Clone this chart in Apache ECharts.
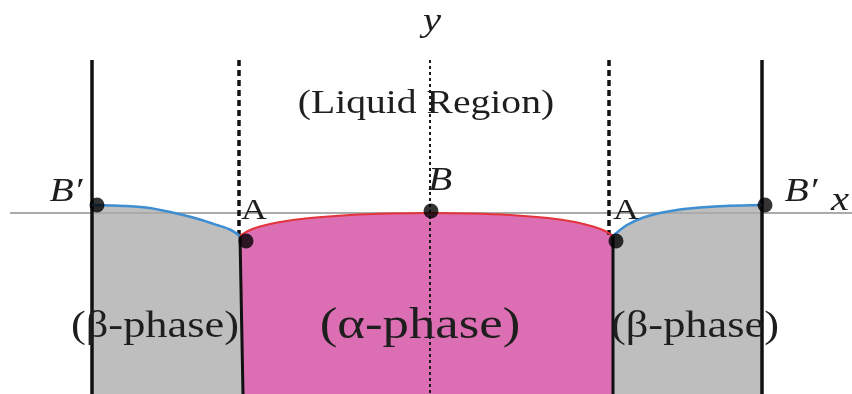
<!DOCTYPE html>
<html>
<head>
<meta charset="utf-8">
<script src="https://cdn.jsdelivr.net/npm/echarts@6/dist/echarts.min.js"></script>
<style>
  html, body { margin: 0; padding: 0; background: #fff; }
  #chart { width: 852px; height: 394px; }
</style>
</head>
<body>
<div id="chart"></div>
<script>
// Domain geometry (x: horizontal, y: height above the x axis)
const wallLeftX = -338;
const wallRightX = 332;
const wallTopY = 153;
const bottomY = -181;
const dashLeftX = -191;
const dashRightX = 179;

// Liquid / beta interfaces (blue) and liquid / alpha interface (red)
const blueLeft = [[-338, 8], [-305, 7], [-280, 5], [-247, -2], [-230, -6.5], [-213, -12], [-200, -16.5], [-190, -23]];
const redCurve = [[-190, -23], [-182, -18], [-170, -13.5], [-150, -9], [-120, -5], [-80, -2], [-40, -0.5], [0, 0],
                  [40, -0.5], [80, -2], [118, -5], [145, -9], [163, -13.5], [175, -18], [183, -23]];
const blueRight = [[183, -23], [190, -17], [197, -12], [212, -5], [230, 0], [250, 3.5], [270, 5.5], [300, 7.2], [332, 8]];

// Solid / solid interfaces running to the bottom
const interfaceLeft = [[-190, -23], [-187, bottomY]];
const interfaceRight = [[183, -23], [183, bottomY]];

// Marked points
const pointNames = ["B'", 'A', 'B', 'A', "B'"];
const pointXY = [[-333, 8], [-184, -28], [1, 2], [186, -28], [335, 8]];

// Annotations
const labelTexts = ['y', '(Liquid Region)', 'B\u2032', 'A', 'B', 'A', 'B\u2032', 'x', '(\u03B2-phase)', '(\u03B1-phase)', '(\u03B2-phase)'];
const labelXY = [[2, 191], [-4, 109], [-364, 21], [-176, 2], [10, 32], [196, 2], [371, 21], [410, 12], [-275, -114], [-10, -113], [265, -114]];
const labelSize = [34, 33, 33, 30, 33, 30, 33, 34, 37, 44, 37];
const labelItalic = [true, false, true, false, true, false, true, true, false, false, false];

const FONT = '"Liberation Serif", "DejaVu Serif", serif';
const STRETCH = 1.2;

const chart = echarts.init(document.getElementById('chart'), null, { renderer: 'canvas' });

function lineSeries(data, color, width, type, z) {
  return {
    type: 'line', data: data, symbol: 'none', z: z, silent: true, animation: false,
    lineStyle: { color: color, width: width, type: type || 'solid' }
  };
}

function curveSeries(data, color, width) {
  return Object.assign(lineSeries(data, color, width, 'solid', 4), { smooth: 0.3 });
}

function polygonSeries(pts, color) {
  return {
    type: 'custom', z: 1, silent: true, animation: false,
    data: [0],
    renderItem: function (params, api) {
      return {
        type: 'polygon',
        shape: { points: pts.map(function (p) { return api.coord(p); }) },
        style: { fill: color }
      };
    }
  };
}

const grayRegion = blueLeft.concat([[-187, bottomY], [wallLeftX, bottomY]]);
const grayRegionR = blueRight.concat([[wallRightX, bottomY], [183, bottomY]]);
const pinkRegion = redCurve.concat([[183, bottomY], [-187, bottomY]]);

chart.setOption({
  animation: false,
  backgroundColor: '#ffffff',
  grid: { left: 0, right: 0, top: 0, bottom: 0 },
  xAxis: { type: 'value', min: -430, max: 422, show: false },
  yAxis: { type: 'value', min: bottomY, max: 213, show: false },
  series: [
    polygonSeries(grayRegion, '#bebebe'),
    polygonSeries(grayRegionR, '#bebebe'),
    polygonSeries(pinkRegion, '#dc6eb3'),
    lineSeries([[-420, 0], [422, 0]], '#ababab', 2, 'solid', 2),
    lineSeries([[0, wallTopY], [0, bottomY]], '#1a1a1a', 2, [3, 3], 3),
    lineSeries([[dashLeftX, wallTopY], [dashLeftX, -22]], '#111', 3.5, [6, 4], 3),
    lineSeries([[dashRightX, wallTopY], [dashRightX, -22]], '#111', 3.5, [6, 4], 3),
    lineSeries([[wallLeftX, wallTopY], [wallLeftX, bottomY]], '#111', 3.5, 'solid', 3),
    lineSeries([[wallRightX, wallTopY], [wallRightX, bottomY]], '#111', 3.5, 'solid', 3),
    lineSeries(interfaceLeft, '#111', 3, 'solid', 3),
    lineSeries(interfaceRight, '#111', 3, 'solid', 3),
    curveSeries(blueLeft, '#3d8ed2', 2.5),
    curveSeries(blueRight, '#3d8ed2', 2.5),
    curveSeries(redCurve, '#e3333b', 2.2),
    {
      type: 'scatter', z: 5, silent: true, animation: false,
      symbol: 'circle', symbolSize: 15,
      itemStyle: { color: '#000' },
      data: pointXY.map(function (p, i) { return { name: pointNames[i], value: p }; })
    },
    {
      type: 'custom', z: 6, silent: true, animation: false,
      data: labelTexts.map(function (t, i) { return [labelXY[i][0], labelXY[i][1], i]; }),
      renderItem: function (params, api) {
        const i = api.value(2);
        const pt = api.coord([api.value(0), api.value(1)]);
        return {
          type: 'text', x: pt[0], y: pt[1], scaleX: STRETCH, scaleY: 1,
          style: {
            text: labelTexts[i], fill: '#1e1e1e',
            fontFamily: FONT, fontSize: labelSize[i],
            fontStyle: labelItalic[i] ? 'italic' : 'normal',
            align: 'center', verticalAlign: 'middle'
          }
        };
      }
    }
  ]
});
</script>
</body>
</html>
